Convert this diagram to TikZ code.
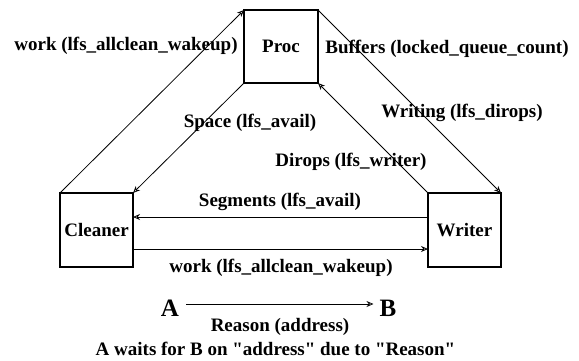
\documentclass[tikz,border=0pt]{standalone}
\usepackage{fontspec}
\setmainfont{Liberation Serif}[Ligatures=TeXOff]
\usetikzlibrary{arrows.meta}
\begin{document}
\begin{tikzpicture}[x=1pt,y=-1pt,
  lbl/.style={font=\fontsize{19}{22}\selectfont\bfseries, inner sep=0pt},
  box/.style={draw, line width=1.8pt, outer sep=0pt, inner sep=0pt, font=\fontsize{19}{22}\selectfont\bfseries},
  conn/.style={line width=0.8pt, -{Stealth[open,length=7pt,width=6pt]}},
  big/.style={font=\fontsize{25}{28}\selectfont\bfseries, inner sep=0pt}]
\path[use as bounding box] (0,0) rectangle (579,360);
\node[box, minimum width=74pt, minimum height=73pt] (proc) at (281,46.5) {Proc};
\node[box, minimum width=73pt, minimum height=74pt] (cleaner) at (96.5,230) {Cleaner};
\node[box, minimum width=73pt, minimum height=74pt] (writer) at (464.5,230) {Writer};
% connectors
\draw[conn] (cleaner.north west) -- (proc.north west);
\draw[conn] (proc.south west) -- (cleaner.north east);
\draw[conn] (proc.north east) -- (writer.north east);
\draw[conn] (writer.north west) -- (proc.south east);
\draw[conn] ([yshift=13pt]writer.west) -- ([yshift=13pt]cleaner.east);
\draw[conn] ([yshift=-19pt]cleaner.east) -- ([yshift=-19pt]writer.west);
% labels
\node[lbl] (l1) at (126,46) {work (lfs\_allclean\_wakeup)};
\node[lbl] (l2) at (447,49) {Buffers (locked\_queue\_count)};
\node[lbl] (l3) at (250,123) {Space (lfs\_avail)};
\node[lbl] (l4) at (462,113) {Writing (lfs\_dirops)};
\node[lbl] (l5) at (351,162) {Dirops (lfs\_writer)};
\node[lbl] (l6) at (280,202) {Segments (lfs\_avail)};
\node[lbl] (l7) at (281,268) {work (lfs\_allclean\_wakeup)};
% legend
\node[big] (A) at (170,308.5) {A};
\node[big] (B) at (388,308.5) {B};
\draw[conn, shorten <=7pt, shorten >=6pt] ([yshift=4.5pt]A.east) -- ([yshift=4.5pt]B.west);
\node[lbl] (r) at (280,327) {Reason (address)};
\node[lbl] (w) at (275.5,348.5) {A waits for B on "address" due to "Reason"};
\end{tikzpicture}
\end{document}
